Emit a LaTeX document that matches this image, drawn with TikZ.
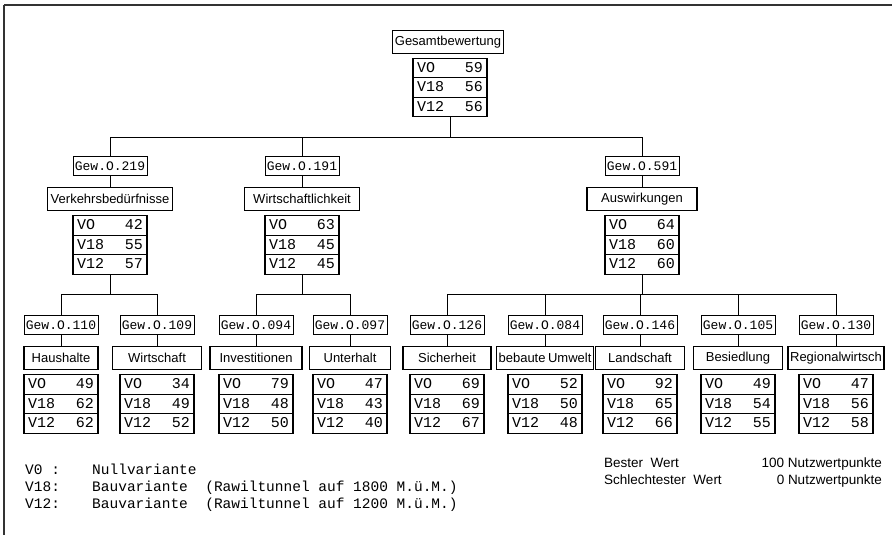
\documentclass[tikz,border=0pt]{standalone}
\usepackage{fontspec}
\setsansfont{Liberation Sans}
\setmonofont{Liberation Mono}
\usetikzlibrary{shapes.multipart,positioning}
\tikzset{
  wire/.style     = {line width=0.8pt},
  frame/.style    = {line width=1.2pt, black!80},
  gewbox/.style   = {rectangle, draw, line width=0.6pt, inner xsep=2pt, inner ysep=0pt,
                     minimum height=19pt, font=\ttfamily\fontsize{13}{14}\selectfont},
  catbox/.style   = {rectangle, draw, line width=1.1pt, inner xsep=2pt, minimum height=23pt,
                     font=\sffamily\fontsize{13}{14}\selectfont},
  scorebox/.style = {rectangle split, rectangle split parts=3, draw, line width=1.1pt,
                     inner xsep=4pt, inner ysep=0pt, font=\ttfamily\fontsize{15}{16}\selectfont},
  legend/.style   = {anchor=base west, inner sep=0pt, font=\ttfamily\fontsize{14.5}{16}\selectfont},
  sidenote/.style = {inner sep=0pt, font=\sffamily\fontsize{13.5}{15}\selectfont},
}
\newcommand{\srow}[2]{\makebox[66pt]{\rule[-5pt]{0pt}{18.5pt}#1\hfill#2}}
\newcommand{\scores}[3]{\srow{VO}{#1}\nodepart{two}\srow{V18}{#2}\nodepart{three}\srow{V12}{#3}}
% weight box, criterion box and score table of one branch
\newcommand{\branch}[9]{%
  \node[gewbox] (#1g) at (#2,#3) {#4};
  \node[catbox, minimum width=#6] (#1c) at (#2,#3+33) {#5};
  \node[scorebox] (#1t) at (#2,#3+79) {\scores{#7}{#8}{#9}};
  \draw[wire] (#1g) -- (#1c);
}

\begin{document}
\begin{tikzpicture}[x=1pt,y=-1pt]
  \useasboundingbox (0,0) rectangle (892,535);
  \draw[frame] (4,5) -- (892,5);
  \draw[frame] (4,5) -- (4,535);

  % top
  \node[catbox, minimum width=110pt] (gesc) at (448,42) {Gesamtbewertung};
  \node[scorebox] (gest) at (450,87.5) {\scores{59}{56}{56}};

  % first level
  \branch{vb}{110}{166}{Gew.O.219}{Verkehrsbedürfnisse}{125pt}{42}{55}{57}
  \branch{wl}{302}{166}{Gew.O.191}{Wirtschaftlichkeit}{115pt}{63}{45}{45}
  \branch{aw}{642}{166}{Gew.O.591}{Auswirkungen}{110pt}{64}{60}{60}

  % second level
  \branch{hh}{61}{325}{Gew.O.110}{Haushalte}{74pt}{49}{62}{62}
  \branch{wi}{157}{325}{Gew.O.109}{Wirtschaft}{89pt}{34}{49}{52}
  \branch{iv}{256}{325}{Gew.O.094}{Investitionen}{92pt}{79}{48}{50}
  \branch{uh}{350}{325}{Gew.O.097}{Unterhalt}{81pt}{47}{43}{40}
  \branch{si}{447}{325}{Gew.O.126}{Sicherheit}{88pt}{69}{69}{67}
  \branch{bu}{545}{325}{Gew.O.084}{bebaute\hspace{2.5pt}Umwelt}{88pt}{52}{50}{48}
  \branch{ls}{640}{325}{Gew.O.146}{Landschaft}{89pt}{92}{65}{66}
  \branch{bs}{738}{325}{Gew.O.105}{Besiedlung}{89pt}{49}{54}{55}
  \branch{rw}{836}{325}{Gew.O.130}{Regionalwirtsch}{96pt}{47}{56}{58}

  \foreach \p/\c in {gest/vbg, gest/wlg, gest/awg, vbt/hhg, vbt/wig, wlt/ivg, wlt/uhg,
                     awt/sig, awt/bug, awt/lsg, awt/bsg, awt/rwg}
    \draw[wire] (\p.south) -- ++(0,19.5) -| (\c.north);

  % legend
  \node[legend] (k0) at (25,474) {V0 :};
  \node[legend] (d0) at (92,474) {Nullvariante};
  \node[legend] (k1) at (25,491) {V18:};
  \node[legend] (d1) at (92,491) {Bauvariante\ \ (Rawiltunnel auf 1800 M.ü.M.)};
  \node[legend] (k2) at (25,508) {V12:};
  \node[legend] (d2) at (92,508) {Bauvariante\ \ (Rawiltunnel auf 1200 M.ü.M.)};

  \node[sidenote, anchor=base west] (bw) at (604,467) {Bester\ \ Wert};
  \node[sidenote, anchor=base west] (sw) at (604,484) {Schlechtester\ \ Wert};
  \node[sidenote, anchor=base east] (hp) at (882,467) {100 Nutzwertpunkte};
  \node[sidenote, anchor=base east] (np) at (882,484) {0 Nutzwertpunkte};
\end{tikzpicture}
\end{document}
